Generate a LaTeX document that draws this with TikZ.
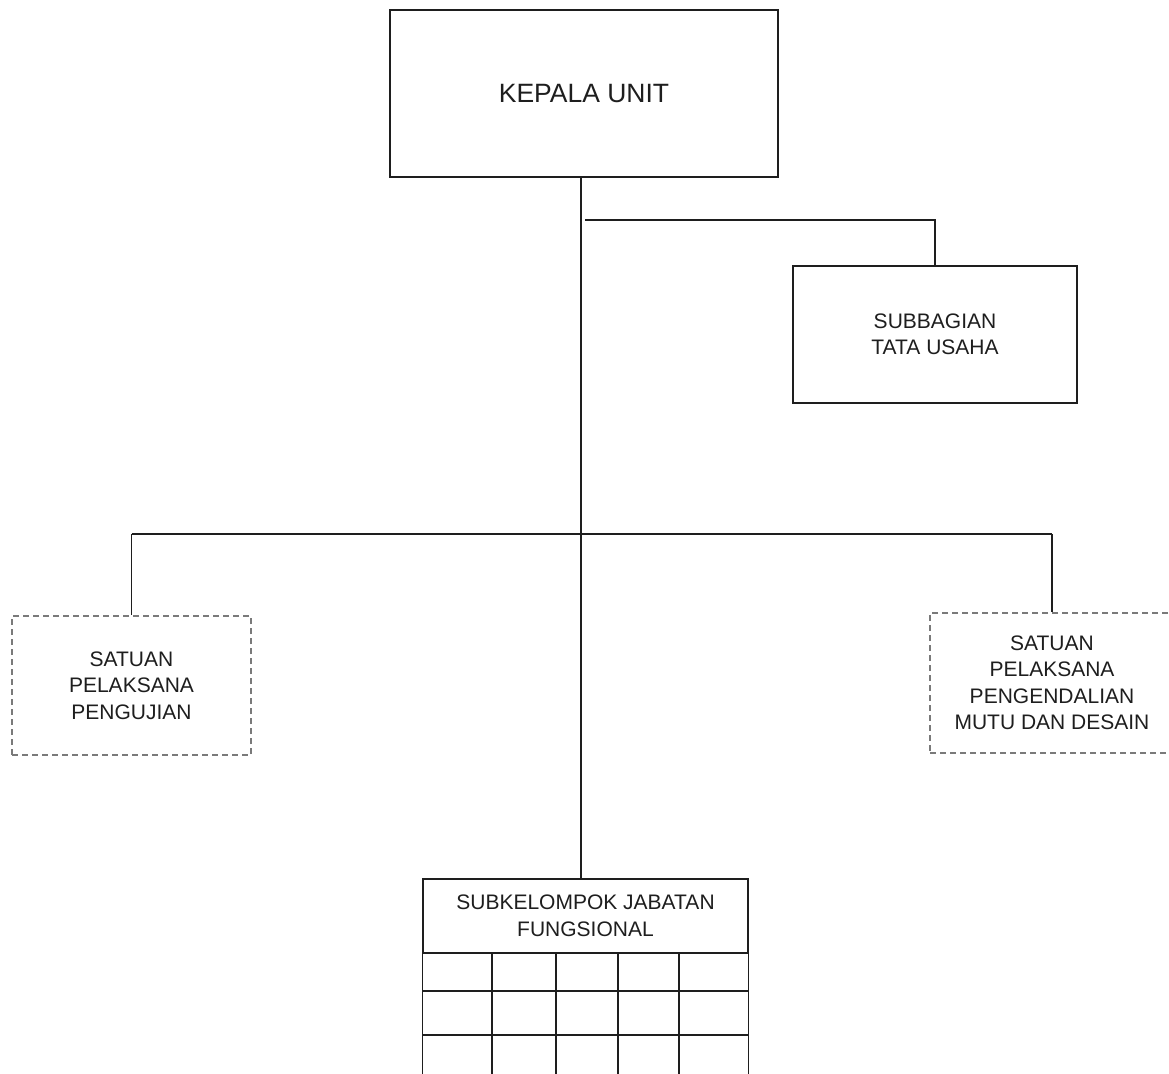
\documentclass[tikz,border=0pt]{standalone}
\usepackage{fontspec}
\setmainfont{Liberation Sans}
\definecolor{ink}{HTML}{1E1E1E}
\definecolor{dashgray}{HTML}{7A7A7A}
\begin{document}
\begin{tikzpicture}[x=1pt,y=-1pt,
  solidbox/.style={draw=ink,line width=1.3pt,rectangle,inner sep=0pt,align=center,text=ink},
  dashbox/.style={draw=dashgray,line width=1.3pt,dash pattern=on 6pt off 4pt,rectangle,inner sep=0pt,align=center,text=ink},
  conn/.style={draw=ink,line width=1.3pt},
  grid/.style={draw=ink,line width=1.2pt},
  txt/.style={font=\fontsize{21}{26.5}\selectfont}]
\useasboundingbox[fill=white] (0,0) rectangle (1169,1073);
\node[solidbox,minimum width=388pt,minimum height=167pt,font=\fontsize{26.5}{30}\selectfont] (kepala) at (584,93.5) {KEPALA UNIT};
\node[solidbox,txt,minimum width=284pt,minimum height=137pt] (tu) at (935,334.5) {SUBBAGIAN\\TATA USAHA};
\node[dashbox,txt,minimum width=239pt,minimum height=139pt] (uji) at (131.5,685.5) {SATUAN\\PELAKSANA\\PENGUJIAN};
\node[dashbox,txt,minimum width=244pt,minimum height=140pt] (mutu) at (1052,683) {SATUAN\\PELAKSANA\\PENGENDALIAN\\MUTU DAN DESAIN};
\node[solidbox,txt,minimum width=325pt,minimum height=74pt] (fungs) at (585.5,916) {SUBKELOMPOK JABATAN\\FUNGSIONAL};
% grid below the header
\draw[grid] (fungs.south west) -- ++(0,130);
\draw[grid] (fungs.south east) -- ++(0,130);
\foreach \gx in {492,556,618,679} \draw[grid] (\gx,953) -- (\gx,1080);
\foreach \gy in {991,1035} \draw[grid] (423,\gy) -- (748,\gy);
% connectors
\coordinate (trunk) at (581,0);
\coordinate (b1) at (585,220);
\coordinate (b2) at (581,534);
\draw[conn] (kepala.south -| trunk) -- (fungs.north -| trunk);
\draw[conn] (b1) -- (b1 -| tu.north) -- (tu.north);
\draw[conn] (uji.north |- b2) -- (mutu.north |- b2);
\draw[conn] (uji.north |- b2) -- (uji.north);
\draw[conn] (mutu.north |- b2) -- (mutu.north);
\end{tikzpicture}
\end{document}
